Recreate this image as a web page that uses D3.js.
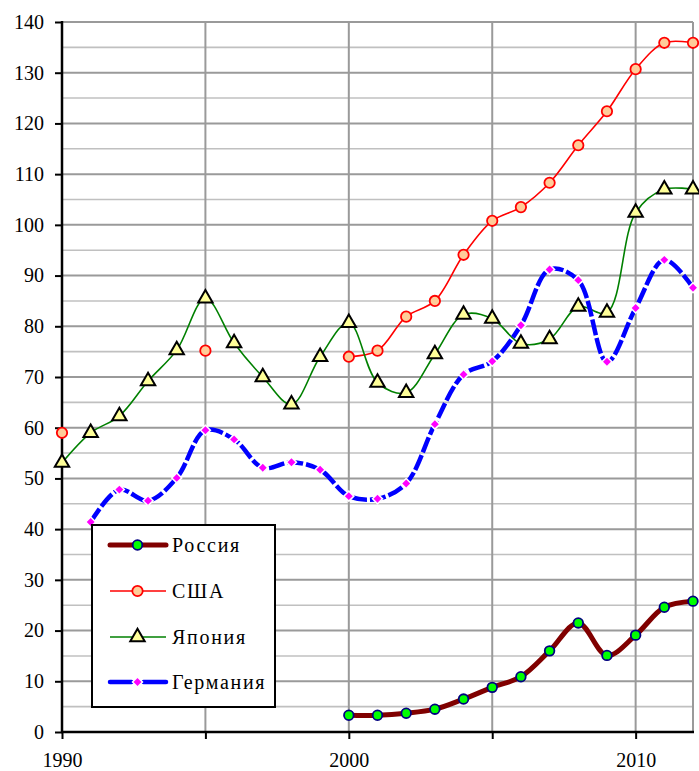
<!DOCTYPE html>
<html>
<head>
<meta charset="utf-8">
<script src="https://cdn.jsdelivr.net/npm/d3@7"></script>
<style>
  html, body { margin: 0; padding: 0; background: #fff; }
  svg { display: block; }
</style>
</head>
<body>
<svg id="chart" width="699" height="771"></svg>
<script>
// ---- data ----
const years = [1990,1991,1992,1993,1994,1995,1996,1997,1998,1999,2000,2001,2002,2003,2004,2005,2006,2007,2008,2009,2010,2011,2012];
const russia  = [null,null,null,null,null,null,null,null,null,null,3.3,3.3,3.7,4.5,6.5,8.8,10.9,16.0,21.5,15.1,19.1,24.6,25.8];
const usa     = [59.0,null,null,null,null,75.2,null,null,null,null,74.0,75.2,81.9,85.0,94.1,100.8,103.5,108.3,115.7,122.4,130.7,135.9,135.9];
const japan   = [53.1,59.0,62.3,69.2,75.3,85.5,76.7,70.0,64.6,74.0,80.7,68.9,66.9,74.5,82.3,81.5,76.6,77.5,83.9,82.7,102.4,107.0,107.0];
const germany = [null,41.4,47.8,45.6,50.1,59.5,57.7,52.1,53.2,51.7,46.5,46.0,49.0,60.7,70.5,73.1,80.2,91.2,89.1,73.0,83.6,93.1,87.6];
const seriesNames = ["Россия","США","Япония","Германия"];
const yTicks = [0,10,20,30,40,50,60,70,80,90,100,110,120,130,140];
const yMinor = [5,15,25,35,45,55,65,75,85,95,105,115,125,135];
const xGridYears = [1995,2000,2005,2010];
const xTickYears = [1990,1995,2000,2005,2010];
const xLabels = [1990,2000,2010];

const FONT = "'Liberation Serif'";

// ---- layout ----
const svg = d3.select("#chart");
const x = d3.scaleLinear().domain([1990, 2012]).range([62, 693]);
const y = d3.scaleLinear().domain([0, 140]).range([732, 22]);

// grid
const g = svg.append("g");
g.selectAll(".minor").data(yMinor).enter().append("line")
  .attr("x1", x(1990)).attr("x2", x(2012))
  .attr("y1", d => y(d)).attr("y2", d => y(d))
  .attr("stroke", "#c0c0c0").attr("stroke-width", 1.6);
g.selectAll(".major").data(yTicks.filter(d => d > 0)).enter().append("line")
  .attr("x1", x(1990)).attr("x2", x(2012))
  .attr("y1", d => y(d)).attr("y2", d => y(d))
  .attr("stroke", "#9a9a9a").attr("stroke-width", 2);
g.selectAll(".vgrid").data(xGridYears).enter().append("line")
  .attr("x1", d => x(d)).attr("x2", d => x(d))
  .attr("y1", y(0)).attr("y2", y(140))
  .attr("stroke", "#9a9a9a").attr("stroke-width", 2);
g.append("line").attr("x1", x(2012)).attr("x2", x(2012)).attr("y1", y(0)).attr("y2", y(140))
  .attr("stroke", "#9a9a9a").attr("stroke-width", 2);

// axes
const yAxis = d3.axisLeft(y).tickValues(yTicks).tickSize(7).tickPadding(11).tickFormat(d3.format("d"));
const yg = svg.append("g").attr("transform", `translate(${x(1990)},0)`).call(yAxis);
yg.select(".domain").remove();
yg.selectAll(".tick line").attr("stroke", "#000").attr("stroke-width", 2);
yg.selectAll(".tick text").attr("font-size", 20).style("font-family", FONT).attr("fill", "#000");

const xAxis = d3.axisBottom(x).tickValues(xTickYears).tickSize(7)
  .tickFormat(d => xLabels.includes(d) ? String(d) : "").tickPadding(14);
const xg = svg.append("g").attr("transform", `translate(0,${y(0)})`).call(xAxis);
xg.select(".domain").remove();
xg.selectAll(".tick line").attr("stroke", "#000").attr("stroke-width", 2);
xg.selectAll(".tick text").attr("font-size", 20).style("font-family", FONT).attr("fill", "#000");

svg.append("line").attr("x1", x(1990)).attr("x2", x(1990)).attr("y1", y(140) - 1).attr("y2", y(0) + 1)
  .attr("stroke", "#000").attr("stroke-width", 2.5);
svg.append("line").attr("x1", x(1990) - 1).attr("x2", x(2012) + 1).attr("y1", y(0)).attr("y2", y(0))
  .attr("stroke", "#000").attr("stroke-width", 2.5);

// series
const pts = arr => years.map((yr, i) => ({yr, v: arr[i]}));
const line = d3.line().defined(d => d.v != null).x(d => x(d.yr)).y(d => y(d.v)).curve(d3.curveCatmullRom.alpha(0.5));

const tri = d3.symbol().type(d3.symbolTriangle).size(90);
const dia = d3.symbol().type(d3.symbolSquare).size(50);

function drawRussia(sel, data) {
  sel.append("path").attr("d", line(data)).attr("fill", "none")
    .attr("stroke", "#800000").attr("stroke-width", 5).attr("stroke-linejoin", "round");
  sel.selectAll("circle").data(data.filter(d => d.v != null)).enter().append("circle")
    .attr("cx", d => x(d.yr)).attr("cy", d => y(d.v)).attr("r", 4.8)
    .attr("fill", "#00ff00").attr("stroke", "#000080").attr("stroke-width", 1.8);
}
function drawUSA(sel, data) {
  sel.append("path").attr("d", line(data)).attr("fill", "none")
    .attr("stroke", "#ff0000").attr("stroke-width", 1.6);
  sel.selectAll("circle").data(data.filter(d => d.v != null)).enter().append("circle")
    .attr("cx", d => x(d.yr)).attr("cy", d => y(d.v)).attr("r", 5.2)
    .attr("fill", "#ffcc99").attr("stroke", "#ff0000").attr("stroke-width", 1.8);
}
function drawJapan(sel, data) {
  sel.append("path").attr("d", line(data)).attr("fill", "none")
    .attr("stroke", "#008000").attr("stroke-width", 1.6);
  sel.selectAll("path.m").data(data.filter(d => d.v != null)).enter().append("path").attr("class", "m")
    .attr("d", tri).attr("transform", d => `translate(${x(d.yr)},${y(d.v)})`)
    .attr("fill", "#ffff99").attr("stroke", "#000").attr("stroke-width", 2);
}
function drawGermany(sel, data) {
  sel.append("path").attr("d", line(data)).attr("fill", "none")
    .attr("stroke", "#0000ff").attr("stroke-width", 4.5).attr("stroke-dasharray", "16,3");
  sel.selectAll("path.m").data(data.filter(d => d.v != null)).enter().append("path").attr("class", "m")
    .attr("d", dia).attr("transform", d => `translate(${x(d.yr)},${y(d.v)}) rotate(45)`)
    .attr("fill", "#ff00ff").attr("stroke", "#ffffff").attr("stroke-width", 1.5);
}

drawRussia(svg.append("g"), pts(russia));
drawUSA(svg.append("g"), pts(usa));
drawJapan(svg.append("g"), pts(japan));
drawGermany(svg.append("g"), pts(germany));

// legend
const lg = svg.append("g");
lg.append("rect").attr("x", 92).attr("y", 525).attr("width", 183).attr("height", 182)
  .attr("fill", "#fff").attr("stroke", "#000").attr("stroke-width", 2);
const ly = [545, 591, 637, 682];
const lx1 = 110, lx2 = 166, lmx = 137.5;
lg.append("line").attr("x1", lx1).attr("x2", lx2).attr("y1", ly[0]).attr("y2", ly[0])
  .attr("stroke", "#800000").attr("stroke-width", 5).attr("stroke-linecap", "round");
lg.append("circle").attr("cx", lmx).attr("cy", ly[0]).attr("r", 4.8)
  .attr("fill", "#00ff00").attr("stroke", "#000080").attr("stroke-width", 1.8);
lg.append("line").attr("x1", lx1).attr("x2", lx2).attr("y1", ly[1]).attr("y2", ly[1])
  .attr("stroke", "#ff0000").attr("stroke-width", 1.6);
lg.append("circle").attr("cx", lmx).attr("cy", ly[1]).attr("r", 5.2)
  .attr("fill", "#ffcc99").attr("stroke", "#ff0000").attr("stroke-width", 1.8);
lg.append("line").attr("x1", lx1).attr("x2", lx2).attr("y1", ly[2]).attr("y2", ly[2])
  .attr("stroke", "#008000").attr("stroke-width", 1.6);
lg.append("path").attr("d", tri).attr("transform", `translate(${lmx},${ly[2]})`)
  .attr("fill", "#ffff99").attr("stroke", "#000").attr("stroke-width", 2);
lg.append("line").attr("x1", lx1).attr("x2", lmx - 6).attr("y1", ly[3]).attr("y2", ly[3])
  .attr("stroke", "#0000ff").attr("stroke-width", 4.5).attr("stroke-linecap", "round");
lg.append("line").attr("x1", lmx + 6).attr("x2", lx2).attr("y1", ly[3]).attr("y2", ly[3])
  .attr("stroke", "#0000ff").attr("stroke-width", 4.5).attr("stroke-linecap", "round");
lg.append("path").attr("d", dia).attr("transform", `translate(${lmx},${ly[3]}) rotate(45)`)
  .attr("fill", "#ff00ff").attr("stroke", "#fff").attr("stroke-width", 1.5);

lg.selectAll("text.lab").data(seriesNames).enter().append("text").attr("class", "lab")
  .attr("x", 172).attr("y", (d, i) => ly[i] + 7).attr("font-size", 20)
  .style("font-family", FONT).attr("letter-spacing", 1.7).attr("fill", "#000")
  .text(d => d);
</script>
</body>
</html>
